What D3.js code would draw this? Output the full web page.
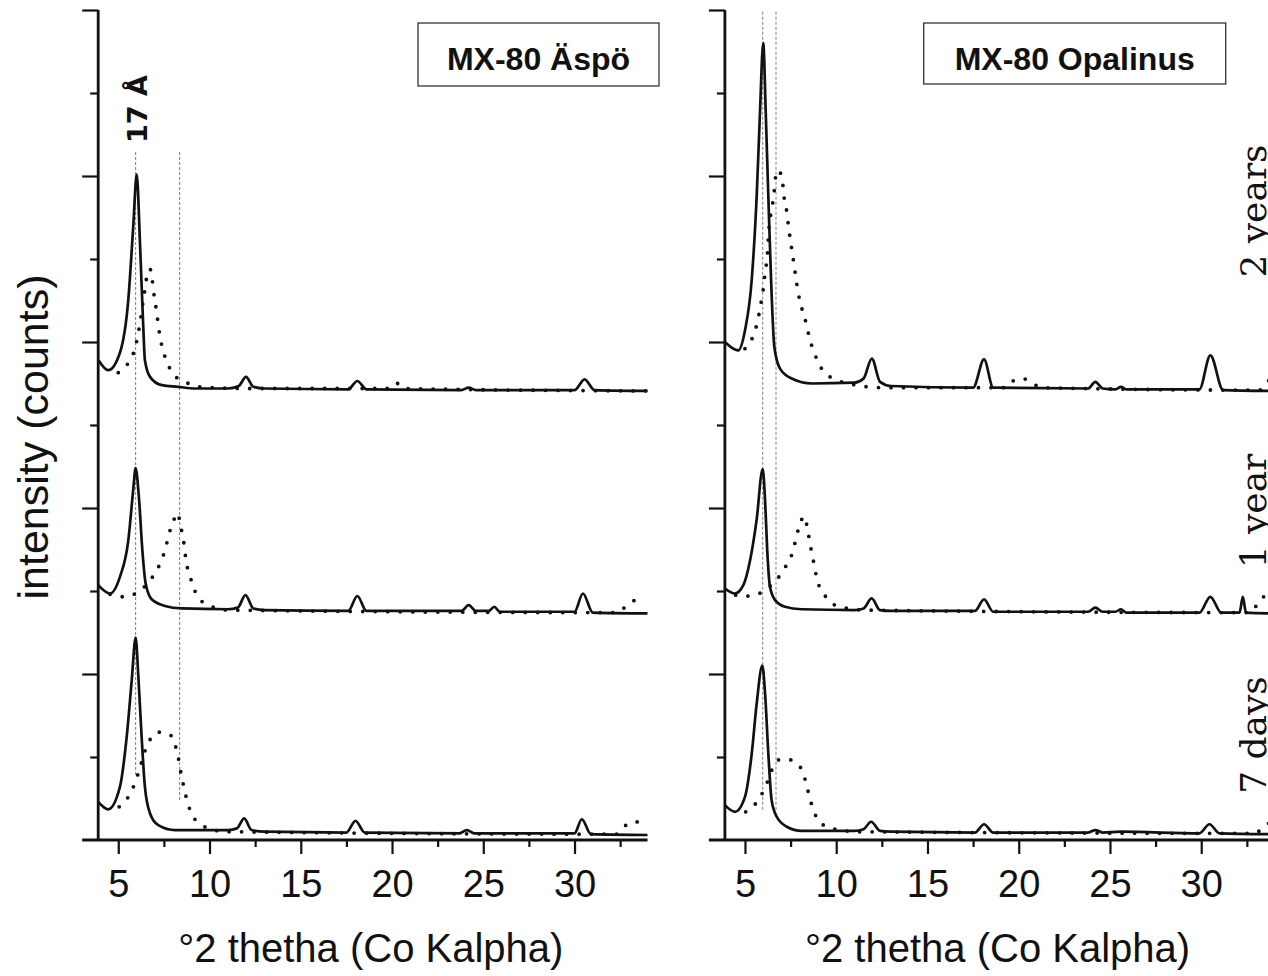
<!DOCTYPE html>
<html>
<head>
<meta charset="utf-8">
<script src="https://cdn.jsdelivr.net/npm/d3@7"></script>
<style>
  body { margin: 0; background: #fff; }
  svg { display: block; }
</style>
</head>
<body>
<script>
var width = 1268,
    height = 976;

// x ticks (degrees 2 theta)
var xTicksMajor = [5, 10, 15, 20, 25, 30];
var xTicksMinor = [7.5, 12.5, 17.5, 22.5, 27.5, 32.5];
// y ticks (arbitrary intensity units, no labels)
var yTicksMajor = [2, 4, 6, 8, 10];
var yTicksMinor = [1, 3, 5, 7, 9];

var panelTitles = ["MX-80 Äspö", "MX-80 Opalinus"];
var timeLabels = ["2 years", "1 year", "7 days"];
var timeLabelPos = [211, 511, 735];

// --- MX-80 Äspö ---
var aspo2ySolid = [[3.92,5.78],[4.45,5.66],[5.09,5.87],[5.55,6.51],[5.82,7.39],[6.01,8.02],[6.19,7.19],[6.37,6.18],[6.46,5.78],[6.74,5.58],[7.38,5.48],[8.29,5.46],[9.2,5.44],[11.0,5.44],[11.6,5.47],[12.0,5.58],[12.4,5.46],[13.0,5.44],[17.6,5.43],[18.1,5.53],[18.6,5.43],[23.8,5.42],[24.2,5.45],[24.6,5.42],[30.0,5.42],[30.55,5.55],[31.1,5.42],[34.0,5.41]];
var aspo2yDots = [[5.0,5.63],[5.46,5.72],[5.82,5.86],[6.04,6.04],[6.19,6.23],[6.32,6.43],[6.46,6.63],[6.59,6.82],[6.74,6.88],[6.86,6.75],[6.97,6.55],[7.11,6.35],[7.22,6.16],[7.38,5.96],[7.65,5.77],[8.07,5.60],[8.66,5.52],[9.39,5.46],[12.0,5.44],[20.0,5.44],[20.3,5.5],[20.6,5.44],[34.0,5.41]];
var aspo1ySolid = [[3.9,3.07],[4.55,2.97],[5.09,3.17],[5.55,3.61],[5.82,4.22],[5.95,4.48],[6.14,4.10],[6.32,3.49],[6.5,3.09],[6.83,2.90],[7.56,2.82],[8.48,2.79],[11.0,2.78],[11.55,2.80],[11.97,2.95],[12.4,2.79],[13.0,2.77],[17.6,2.76],[18.1,2.94],[18.6,2.76],[23.8,2.76],[24.2,2.83],[24.6,2.76],[25.3,2.76],[25.6,2.81],[25.9,2.75],[30.0,2.75],[30.46,2.97],[31.0,2.74],[34.0,2.73]];
var aspo1yDots = [[4.55,2.96],[5.09,2.93],[5.74,2.95],[6.28,3.02],[6.74,3.13],[7.16,3.27],[7.47,3.43],[7.71,3.62],[7.93,3.80],[8.05,3.86],[8.23,3.94],[8.44,3.76],[8.6,3.57],[8.71,3.37],[8.93,3.18],[9.2,3.0],[9.6,2.87],[10.3,2.80],[11.03,2.77],[32.3,2.74],[32.9,2.83],[33.5,2.92]];
var aspo7dSolid = [[3.9,0.46],[4.45,0.37],[5.09,0.64],[5.46,1.24],[5.74,1.93],[5.95,2.44],[6.1,1.97],[6.28,1.24],[6.46,0.64],[6.74,0.32],[7.19,0.18],[8.11,0.12],[11.0,0.12],[11.5,0.14],[11.9,0.26],[12.3,0.12],[13.0,0.1],[17.5,0.09],[18.0,0.23],[18.5,0.09],[23.7,0.08],[24.1,0.12],[24.5,0.08],[30.0,0.08],[30.4,0.25],[30.9,0.07],[34.0,0.06]];
var aspo7dDots = [[5.05,0.40],[5.46,0.49],[5.77,0.61],[6.06,0.78],[6.56,1.13],[6.83,1.24],[7.19,1.30],[7.52,1.29],[7.83,1.27],[8.11,1.15],[8.29,0.99],[8.44,0.80],[8.62,0.61],[8.84,0.42],[9.11,0.28],[9.53,0.19],[10.21,0.12],[11.0,0.1],[32.3,0.07],[32.6,0.14],[33.35,0.22],[33.8,0.16]];

// --- MX-80 Opalinus ---
var opa2ySolid = [[3.9,6.0],[4.45,5.91],[4.63,5.90],[5.0,6.14],[5.37,6.75],[5.64,7.75],[5.82,8.75],[6.0,9.60],[6.14,8.75],[6.28,7.75],[6.43,6.75],[6.61,5.94],[6.92,5.68],[7.56,5.56],[8.66,5.50],[11.0,5.51],[11.5,5.56],[11.95,5.80],[12.4,5.52],[13.0,5.47],[17.5,5.45],[18.1,5.79],[18.6,5.45],[23.8,5.44],[24.2,5.52],[24.6,5.44],[25.3,5.43],[25.6,5.46],[25.9,5.43],[29.9,5.43],[30.5,5.84],[31.2,5.42],[34.0,5.41]];
var opa2yDots = [[5.0,5.92],[5.46,6.08],[5.68,6.24],[5.86,6.45],[6.0,6.63],[6.1,6.83],[6.22,7.03],[6.33,7.41],[6.46,7.59],[6.59,7.79],[6.68,7.99],[6.83,8.07],[7.05,7.94],[7.14,7.75],[7.29,7.57],[7.4,7.37],[7.52,7.18],[7.65,6.99],[7.78,6.79],[7.92,6.59],[8.11,6.41],[8.36,6.22],[8.52,6.06],[8.8,5.87],[9.17,5.69],[9.66,5.58],[10.3,5.52],[11.12,5.48],[11.72,5.46],[12.5,5.45],[19.3,5.45],[19.6,5.52],[20.2,5.56],[20.8,5.5],[21.2,5.45],[33.2,5.42],[33.55,5.5],[33.9,5.58]];
var opa1ySolid = [[3.9,3.03],[4.45,2.97],[4.91,3.07],[5.28,3.37],[5.64,3.86],[5.97,4.47],[6.1,4.10],[6.22,3.49],[6.37,3.05],[6.65,2.89],[7.19,2.81],[8.11,2.78],[11.0,2.77],[11.5,2.79],[11.94,2.91],[12.4,2.77],[13.0,2.76],[17.6,2.76],[18.1,2.9],[18.6,2.75],[23.8,2.75],[24.2,2.8],[24.6,2.75],[25.3,2.75],[25.6,2.78],[25.9,2.74],[29.9,2.74],[30.5,2.93],[31.1,2.74],[32.1,2.74],[32.28,2.93],[32.45,2.74],[34.0,2.73]];
var opa1yDots = [[4.49,2.95],[4.85,2.93],[5.37,2.95],[5.88,2.98],[6.32,3.05],[6.79,3.15],[7.15,3.27],[7.52,3.41],[7.74,3.58],[7.96,3.77],[8.25,3.90],[8.44,3.73],[8.6,3.53],[8.77,3.34],[8.95,3.14],[9.31,2.97],[9.84,2.84],[10.66,2.79],[11.5,2.77],[32.7,2.74],[33.1,2.85],[33.5,2.95]];
var opa7dSolid = [[3.9,0.42],[4.45,0.34],[5.0,0.52],[5.37,1.04],[5.64,1.64],[5.95,2.10],[6.1,1.77],[6.28,1.04],[6.46,0.48],[6.74,0.28],[7.29,0.16],[8.11,0.11],[11.0,0.11],[11.5,0.13],[11.91,0.22],[12.4,0.11],[13.0,0.1],[17.6,0.09],[18.1,0.19],[18.6,0.09],[23.8,0.09],[24.2,0.12],[24.6,0.09],[25.6,0.1],[29.9,0.08],[30.45,0.19],[31.0,0.08],[34.0,0.07]];
var opa7dDots = [[5.04,0.34],[5.59,0.44],[6.06,0.61],[6.65,0.92],[6.92,0.97],[7.34,0.97],[7.8,0.93],[8.2,0.80],[8.42,0.62],[8.62,0.45],[8.93,0.27],[9.48,0.16],[10.26,0.12],[11.0,0.1],[33.0,0.08],[33.3,0.14],[33.7,0.2]];

// reference lines: [2theta, yTop, yBottom]
var aspoRefLines = [[5.95, 8.29, 0.76], [8.36, 8.29, 0.48]];
var opaRefLines = [[5.97, 9.98, 0.36], [6.70, 9.98, 0.36]];

var panels = [
  {left: 98.2, title: panelTitles[0], box: [418, 23, 241, 63],
   solid: [aspo2ySolid, aspo1ySolid, aspo7dSolid], dots: [aspo2yDots, aspo1yDots, aspo7dDots], refs: aspoRefLines},
  {left: 724.9, title: panelTitles[1], box: [923.7, 23, 302, 61],
   solid: [opa2ySolid, opa1ySolid, opa7dSolid], dots: [opa2yDots, opa1yDots, opa7dDots], refs: opaRefLines}
];

var svg = d3.select("body").append("svg")
    .attr("width", width)
    .attr("height", height);

var sans = "'Liberation Sans', Arial, Helvetica, sans-serif";

var y = d3.scaleLinear().domain([0, 10]).range([840, 10]);

panels.forEach(function(p, i) {
  var x = d3.scaleLinear().domain([3.9, 34]).range([p.left, p.left + 30.1 * 18.25]);
  var g = svg.append("g");

  var line = d3.line()
      .x(function(d) { return x(d[0]); })
      .y(function(d) { return y(d[1]); })
      .curve(d3.curveMonotoneX);

  // dashed reference lines
  g.selectAll(".ref")
    .data(p.refs)
    .enter().append("line")
      .attr("x1", function(d) { return x(d[0]); })
      .attr("x2", function(d) { return x(d[0]); })
      .attr("y1", function(d) { return y(d[1]); })
      .attr("y2", function(d) { return y(d[2]); })
      .attr("stroke", "#8a8a8a")
      .attr("stroke-width", 1.1)
      .attr("stroke-dasharray", "3,2");

  // dotted series
  g.selectAll(".dots")
    .data(p.dots)
    .enter().append("path")
      .attr("d", line)
      .attr("fill", "none")
      .attr("stroke", "#111")
      .attr("stroke-width", 3.8)
      .attr("stroke-linecap", "round")
      .attr("stroke-dasharray", "0,12.5");

  // solid series
  g.selectAll(".solid")
    .data(p.solid)
    .enter().append("path")
      .attr("d", line)
      .attr("fill", "none")
      .attr("stroke", "#111")
      .attr("stroke-width", 2.7)
      .attr("stroke-linejoin", "round");

  // x axis
  var xMajor = g.append("g")
      .attr("transform", "translate(0,840)")
      .call(d3.axisBottom(x).tickValues(xTicksMajor).tickSize(14).tickPadding(16).tickFormat(d3.format("d")));
  var xMinor = g.append("g")
      .attr("transform", "translate(0,840)")
      .call(d3.axisBottom(x).tickValues(xTicksMinor).tickSize(7).tickFormat(""));
  [xMajor, xMinor].forEach(function(a) {
    a.select(".domain").remove();
    a.selectAll("line").attr("stroke", "#111").attr("stroke-width", 2.2);
  });
  xMajor.selectAll("text")
      .attr("font-family", sans)
      .attr("font-size", 38)
      .attr("fill", "#111");
  g.append("line")
      .attr("x1", x(3.9) - 16).attr("x2", x(34))
      .attr("y1", 840).attr("y2", 840)
      .attr("stroke", "#111").attr("stroke-width", 2.8);

  // y axis
  var yMajor = g.append("g")
      .attr("transform", "translate(" + x(3.9) + ",0)")
      .call(d3.axisLeft(y).tickValues(yTicksMajor).tickSize(16).tickFormat(""));
  var yMinor = g.append("g")
      .attr("transform", "translate(" + x(3.9) + ",0)")
      .call(d3.axisLeft(y).tickValues(yTicksMinor).tickSize(8).tickFormat(""));
  [yMajor, yMinor].forEach(function(a) {
    a.select(".domain").remove();
    a.selectAll("line").attr("stroke", "#111").attr("stroke-width", 2.2);
  });
  g.append("line")
      .attr("x1", x(3.9)).attr("x2", x(3.9))
      .attr("y1", y(10)).attr("y2", 841)
      .attr("stroke", "#111").attr("stroke-width", 2.8);

  // axis title
  g.append("text")
      .attr("x", (x(3.9) + x(34)) / 2 - 2)
      .attr("y", 962)
      .attr("text-anchor", "middle")
      .attr("font-family", sans)
      .attr("font-size", 40)
      .attr("fill", "#111")
      .text("°2 thetha (Co Kalpha)");

  // title box
  g.append("rect")
      .attr("x", p.box[0]).attr("y", p.box[1])
      .attr("width", p.box[2]).attr("height", p.box[3])
      .attr("fill", "#fff")
      .attr("stroke", "#333")
      .attr("stroke-width", 1.3);
  g.append("text")
      .attr("x", p.box[0] + p.box[2] / 2)
      .attr("y", 70)
      .attr("text-anchor", "middle")
      .attr("font-family", sans)
      .attr("font-weight", "bold")
      .attr("font-size", 32)
      .attr("fill", "#111")
      .text(p.title);
});

// 17 Å label
svg.append("text")
    .attr("transform", "translate(147,109) rotate(-90)")
    .attr("text-anchor", "middle")
    .attr("font-family", "'DejaVu Sans', sans-serif")
    .attr("font-weight", "bold")
    .attr("font-size", 27)
    .attr("fill", "#111")
    .text("17 Å");

// y axis label
svg.append("text")
    .attr("transform", "translate(48,437) rotate(-90)")
    .attr("text-anchor", "middle")
    .attr("font-family", sans)
    .attr("font-size", 43)
    .attr("fill", "#111")
    .text("intensity (counts)");

// time labels on the right edge (cut by the page edge, as in the source figure)
svg.selectAll(".time")
  .data(timeLabels)
  .enter().append("text")
    .attr("transform", function(d, i) { return "translate(1266," + timeLabelPos[i] + ") rotate(-90)"; })
    .attr("text-anchor", "middle")
    .attr("font-family", "'DejaVu Serif', serif")
    .attr("font-size", 36)
    .attr("fill", "#111")
    .text(function(d) { return d; });
</script>
</body>
</html>
